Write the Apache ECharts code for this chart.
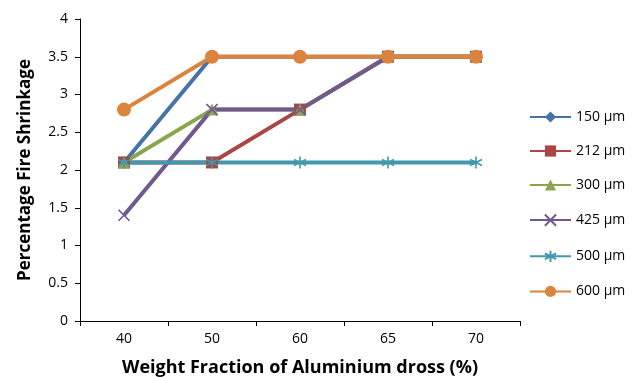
<!DOCTYPE html>
<html><head><meta charset="utf-8">
<script src="https://cdn.jsdelivr.net/npm/echarts@6/dist/echarts.min.js"></script>
<style>html,body{margin:0;padding:0;background:#fff}#c{width:643px;height:377px}</style>
</head><body><div id="c"></div>
<script>
const categories = ['40', '50', '60', '65', '70'];
const s150 = [2.1, 3.5, 3.5, 3.5, 3.5];
const s212 = [2.1, 2.1, 2.8, 3.5, 3.5];
const s300 = [2.1, 2.8, 2.8, 3.5, 3.5];
const s425 = [1.4, 2.8, 2.8, 3.5, 3.5];
const s500 = [2.1, 2.1, 2.1, 2.1, 2.1];
const s600 = [2.8, 3.5, 3.5, 3.5, 3.5];
const seriesNames = ['150 µm', '212 µm', '300 µm', '425 µm', '500 µm', '600 µm'];

const FONT = '"Open Sans", "Liberation Sans", sans-serif';
const xPath = 'path://M0,0L10,10M10,0L0,10';
const starPath = 'path://M5,0L5,10M0,2.5L10,7.5M0,7.5L10,2.5';

function mk(name, data, color, symbol, size, stroked) {
  const s = {
    name: name, type: 'line', data: data, symbol: symbol, symbolSize: size,
    lineStyle: { color: color, width: 4 },
    itemStyle: { color: color },
    z: 2
  };
  if (stroked) {
    s.itemStyle = { color: 'none', borderColor: color, borderWidth: 1.6 };
  }
  return s;
}

const chart = echarts.init(document.getElementById('c'), null, { renderer: 'canvas' });
chart.setOption({
  animation: false,
  backgroundColor: '#fff',
  grid: { left: 80, right: 123, top: 19, bottom: 56, containLabel: false, outerBoundsMode: 'none' },
  legend: {
    orient: 'vertical', left: 529, top: 110, padding: 0,
    itemWidth: 41, itemHeight: 14, itemGap: 20, itemTextGap: 3,
    textStyle: { fontFamily: FONT, fontSize: 14, color: '#000' },
    data: seriesNames
  },
  xAxis: {
    type: 'category', data: categories, boundaryGap: true,
    name: 'Weight Fraction of Aluminium dross (%)', nameLocation: 'middle', nameGap: 38,
    nameTextStyle: { fontFamily: FONT, fontSize: 18, fontWeight: 'bold', color: '#000' },
    axisLine: { lineStyle: { color: '#000', width: 1 } },
    axisTick: { show: true, length: 5, inside: false, alignWithLabel: false, lineStyle: { color: '#000' } },
    axisLabel: { fontFamily: FONT, fontSize: 14, color: '#000', margin: 11 },
    splitLine: { show: false }
  },
  yAxis: {
    type: 'value', min: 0, max: 4, interval: 0.5,
    name: 'Percentage Fire Shrinkage', nameLocation: 'middle', nameGap: 46,
    nameTextStyle: { fontFamily: FONT, fontSize: 17, fontWeight: 'bold', color: '#000' },
    axisLine: { show: true, lineStyle: { color: '#000', width: 1 } },
    axisTick: { show: true, length: 5, lineStyle: { color: '#000' } },
    axisLabel: { fontFamily: FONT, fontSize: 14, color: '#000', margin: 12 },
    splitLine: { show: false }
  },
  series: [
    mk(seriesNames[0], s150, '#4572A7', 'diamond', 12),
    mk(seriesNames[1], s212, '#AA4643', 'rect', 12),
    mk(seriesNames[2], s300, '#89A54E', 'triangle', 12),
    mk(seriesNames[3], s425, '#71588F', xPath, 11, true),
    mk(seriesNames[4], s500, '#4198AF', starPath, 12, true),
    mk(seriesNames[5], s600, '#DB843D', 'circle', 14)
  ]
});
</script></body></html>
